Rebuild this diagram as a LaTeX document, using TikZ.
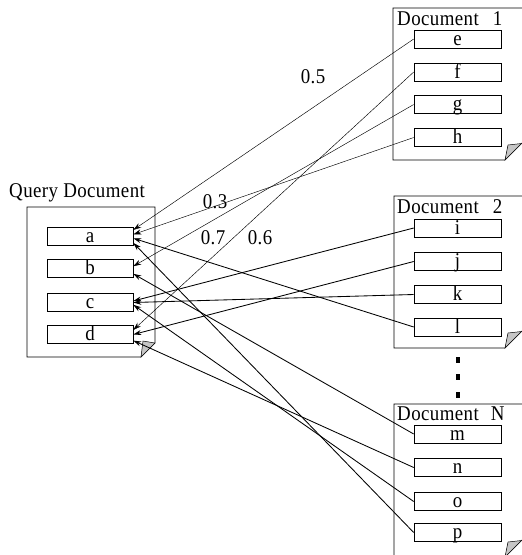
\documentclass[tikz,border=0pt]{standalone}
\usepackage{fontspec}
\setmainfont{Liberation Serif}
\newfontfamily\labelfont[FakeStretch=0.9,LetterSpace=2]{Liberation Serif}
\usetikzlibrary{arrows.meta}
\begin{document}
\begin{tikzpicture}[x=1pt, y=-1pt, every node/.style={font=\labelfont\fontsize{21}{23}\selectfont},
  item/.style={draw,line width=0.6pt,minimum width=87pt,minimum height=18pt,inner sep=0pt,text height=12pt,text depth=0pt},
  title/.style={anchor=base west,inner sep=0pt,text depth=0pt},
  sheet/.style={draw,line width=0.6pt},
  fold/.style={draw,fill=gray!45,line width=0.5pt},
  arr/.style={-{Stealth[length=8pt,width=5pt]},line width=0.45pt},
  darr/.style={-{Stealth[length=8pt,width=5pt]},line width=0.85pt}]
  \useasboundingbox (0,0) rectangle (522,555);
  % page outlines with folded corners
  \draw[sheet] (27,207) -- (155,207) -- (155,343) -- (141,357) -- (27,357) -- cycle;
  \draw[fold] (155,343) -- (141,357) -- (143,341) -- cycle;
  \draw[sheet] (393,8) -- (523,8) -- (523,142) -- (505,160) -- (393,160) -- cycle;
  \draw[fold] (521.5,143.5) -- (505,160) -- (508,145) -- cycle;
  \draw[sheet] (394,196) -- (523,196) -- (523,330) -- (505,348) -- (394,348) -- cycle;
  \draw[fold] (521.5,331.5) -- (505,348) -- (508,333) -- cycle;
  \draw[sheet] (394,404) -- (523,404) -- (523,539) -- (505,557) -- (394,557) -- cycle;
  \draw[fold] (521.5,540.5) -- (505,557) -- (508,542) -- cycle;
  % titles
  \node[title] (qtitle) at (9,197) {Query Document};
  \node[title] (d1title) at (397,25) {Document\hspace{14pt}1};
  \node[title] (d2title) at (397,213) {Document\hspace{14pt}2};
  \node[title] (dntitle) at (397,420) {Document\hspace{12pt}N};
  % query items
  \node[item,minimum width=86pt] (a) at (90,236) {a};
  \node[item,minimum width=86pt] (b) at (90,268.5) {b};
  \node[item,minimum width=86pt] (c) at (90,302.5) {c};
  \node[item,minimum width=86pt] (d) at (90,334.5) {d};
  % document items
  \node[item] (e) at (457.5,39) {e};
  \node[item] (f) at (457.5,72) {f};
  \node[item] (g) at (457.5,104.5) {g};
  \node[item] (h) at (457.5,137.5) {h};
  \node[item] (i) at (457.5,228) {i};
  \node[item] (j) at (457.5,261.5) {j};
  \node[item] (k) at (457.5,294.5) {k};
  \node[item] (l) at (457.5,327) {l};
  \node[item] (m) at (457.5,434) {m};
  \node[item] (n) at (457.5,467.5) {n};
  \node[item] (o) at (457.5,501.5) {o};
  \node[item] (p) at (457.5,532.5) {p};
  % vertical dots
  \fill (456,357) rectangle (460,363);
  \fill (456,374) rectangle (460,380);
  \fill (456,392) rectangle (460,398);
  % links from document 1
  \draw[arr] (e.west) -- (a.8);
  \draw[arr] (f.west) -- (d.6);
  \draw[arr] (g.west) -- (b.3);
  \draw[arr] (h.west) -- (a.2);
  \node (w05) at (313,77) {0.5};
  \node (w03) at (215,202) {0.3};
  \node (w07) at (213,238) {0.7};
  \node (w06) at (260,238) {0.6};
  % links from document 2
  \draw[darr] (i.west) -- (c.2);
  \draw[darr] (j.west) -- (d.0);
  \draw[darr] (k.west) -- (c.east);
  \draw[darr] (l.west) -- (a.-3);
  % links from document N
  \draw[darr] (m.west) -- (b.-7);
  \draw[darr] (n.west) -- (d.-8);
  \draw[darr] (o.west) -- (c.-3);
  \draw[darr] (p.west) -- (a.-9);
\end{tikzpicture}
\end{document}
